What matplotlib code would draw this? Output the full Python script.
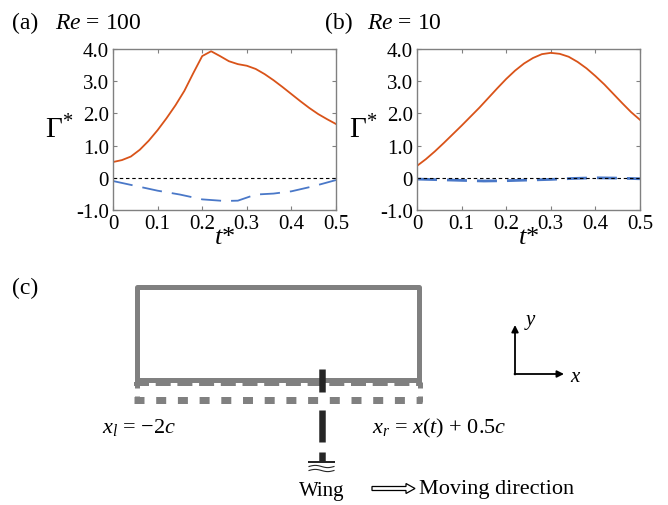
import numpy as np
import matplotlib
matplotlib.use("Agg")
import matplotlib.pyplot as plt
from matplotlib.patches import FancyArrow

plt.rcParams['font.family'] = ['Liberation Serif', 'DejaVu Serif']
plt.rcParams['mathtext.fontset'] = 'custom'
plt.rcParams['mathtext.rm'] = 'Liberation Serif'
plt.rcParams['mathtext.it'] = 'Liberation Serif:italic'
plt.rcParams['axes.unicode_minus'] = False
plt.rcParams['lines.scale_dashes'] = False

# circulation histories
t_a = [0, 0.02, 0.04, 0.06, 0.08, 0.10, 0.12, 0.14, 0.16, 0.18, 0.20, 0.22, 0.24,
       0.26, 0.28, 0.30, 0.32, 0.34, 0.36, 0.38, 0.40, 0.42, 0.44, 0.46, 0.48, 0.50]
gam_a_pos = [0.49, 0.55, 0.66, 0.87, 1.15, 1.48, 1.85, 2.25, 2.70, 3.25, 3.78, 3.93, 3.78,
             3.62, 3.53, 3.48, 3.38, 3.22, 3.03, 2.82, 2.60, 2.38, 2.17, 1.98, 1.82, 1.67]
t_a_neg = [0, 0.05, 0.10, 0.15, 0.20, 0.25, 0.28, 0.32, 0.36, 0.40, 0.45, 0.50]
gam_a_neg = [-0.10, -0.25, -0.40, -0.52, -0.67, -0.72, -0.71, -0.52, -0.49, -0.42, -0.26, -0.07]

t_b = [0, 0.02, 0.04, 0.06, 0.08, 0.10, 0.12, 0.14, 0.16, 0.18, 0.20, 0.22, 0.24,
       0.26, 0.28, 0.30, 0.32, 0.34, 0.36, 0.38, 0.40, 0.42, 0.44, 0.46, 0.48, 0.50]
gam_b_pos = [0.37, 0.58, 0.82, 1.08, 1.35, 1.62, 1.90, 2.18, 2.48, 2.78, 3.07, 3.33, 3.55,
             3.72, 3.84, 3.88, 3.85, 3.76, 3.60, 3.40, 3.16, 2.90, 2.61, 2.32, 2.04, 1.80]
t_b_neg = [0, 0.05, 0.10, 0.15, 0.20, 0.25, 0.30, 0.35, 0.40, 0.45, 0.50]
gam_b_neg = [-0.04, -0.06, -0.08, -0.10, -0.09, -0.07, -0.05, -0.02, 0.0, -0.01, -0.03]

xticks = [0, 0.1, 0.2, 0.3, 0.4, 0.5]
xtick_labels = ['0', '0.1', '0.2', '0.3', '0.4', '0.5']
yticks = [-1, 0, 1, 2, 3, 4]
ytick_labels = ['-1.0', '0', '1.0', '2.0', '3.0', '4.0']

RED = '#D95319'
BLUE = '#4A78C8'
GRAY = '#808080'
PX = 0.72  # points per pixel at dpi 100

fig = plt.figure(figsize=(6.68, 5.06), dpi=100)


def panel(rect, t1, g1, t2, g2, blue_lw):
    ax = fig.add_axes(rect)
    ax.plot(t1, g1, color=RED, lw=1.3)
    ax.plot(t2, g2, color=BLUE, lw=blue_lw, dashes=(20 * PX, 10 * PX))
    ax.axhline(0, color='black', lw=0.8, dashes=(2.5, 2.0))
    ax.set_xlim(0, 0.5)
    ax.set_ylim(-1, 4)
    ax.set_xticks(xticks)
    ax.set_xticklabels(xtick_labels)
    ax.set_yticks(yticks)
    ax.set_yticklabels(ytick_labels)
    ax.tick_params(direction='in', top=True, right=True, length=3, width=0.8,
                   color=GRAY, labelsize=15, pad=3)
    for s in ax.spines.values():
        s.set_color(GRAY)
        s.set_linewidth(1.0)
    ax.set_ylabel(r'$\Gamma^{*}$', rotation=0, fontsize=21, labelpad=12, va='center')
    ax.set_xlabel(r'$t$*', fontsize=19, labelpad=-5)
    return ax


panel([113 / 668, 1 - 211 / 506, 223 / 668, 161 / 506], t_a, gam_a_pos, t_a_neg, gam_a_neg, 1.3)
panel([417 / 668, 1 - 211 / 506, 223 / 668, 161 / 506], t_b, gam_b_pos, t_b_neg, gam_b_neg, 2.0)

# overlay in pixel coordinates for the labels and the schematic
ov = fig.add_axes([0, 0, 1, 1], zorder=5)
ov.set_xlim(0, 668)
ov.set_ylim(506, 0)
ov.axis('off')
ov.patch.set_alpha(0)

ov.text(12, 23, '(a)', fontsize=17, va='center')
ov.text(55, 23, r'$Re$ = 100', fontsize=17, va='center')
ov.text(325, 23, '(b)', fontsize=17, va='center')
ov.text(367, 23, r'$Re$ = 10', fontsize=17, va='center')
ov.text(12, 288, '(c)', fontsize=17, va='center')

# computational box
L, R, TOP, BOT = 137, 419, 287.5, 380.5
ov.plot([L, L, R, R], [BOT, TOP, TOP, BOT], color=GRAY, lw=5 * PX, solid_capstyle='projecting')
ov.plot([L, R], [BOT, BOT], color=GRAY, lw=5 * PX, solid_capstyle='butt')
ov.plot([L - 3, R + 3], [385, 385], color=GRAY, lw=4 * PX, dashes=(15 * PX, 6.7 * PX),
        dash_capstyle='butt')
ov.plot([L - 3, R + 3], [400.5, 400.5], color=GRAY, lw=7 * PX, dashes=(10 * PX, 11.7 * PX),
        dash_capstyle='butt')
ov.plot([L - 0.5, L - 0.5], [383, 404], color=GRAY, lw=5 * PX, dashes=(6 * PX, 8 * PX))
ov.plot([R + 0.5, R + 0.5], [383, 404], color=GRAY, lw=5 * PX, dashes=(6 * PX, 8 * PX))

# wing
WX = 321.7
for y0, y1 in [(370, 393), (410.7, 442.7), (453, 463)]:
    ov.plot([WX, WX], [y0, y1], color='#262626', lw=6.5 * PX, solid_capstyle='butt', zorder=6)
ov.plot([309, 334], [463, 463], color='#262626', lw=2 * PX, zorder=6)
xs = np.linspace(309, 334, 60)
for yc in [467.5, 471.5]:
    ov.plot(xs, yc - 1.1 * np.sin(2 * np.pi * (xs - 309) / 25), color='#262626', lw=1.1 * PX)

ov.text(322, 492, 'Wing', fontsize=15, ha='center', va='center')
ov.add_patch(FancyArrow(372, 489.5, 34, 0, width=4, head_width=10, head_length=9,
                        length_includes_head=False, fc='white', ec='black', lw=0.9))
ov.text(419, 490, 'Moving direction', fontsize=16, ha='left', va='center')

ov.text(102, 428, r'$x_l$ = $-$2$c$', fontsize=16, ha='left', va='center')
ov.text(372, 428, r'$x_r$ = $x$($t$) + 0.5$c$', fontsize=16, ha='left', va='center')

# axes icon
ov.annotate('', xy=(515, 326), xytext=(515, 375.5),
            arrowprops=dict(arrowstyle='-|>', lw=1.3, color='black', mutation_scale=10,
                            shrinkA=0, shrinkB=0))
ov.annotate('', xy=(564, 375), xytext=(514.5, 375),
            arrowprops=dict(arrowstyle='-|>', lw=1.3, color='black', mutation_scale=10,
                            shrinkA=0, shrinkB=0))
ov.text(531, 323, r'$y$', fontsize=15, ha='center', va='center')
ov.text(576, 378, r'$x$', fontsize=15, ha='center', va='center')

fig.savefig('out.png', dpi=100)
